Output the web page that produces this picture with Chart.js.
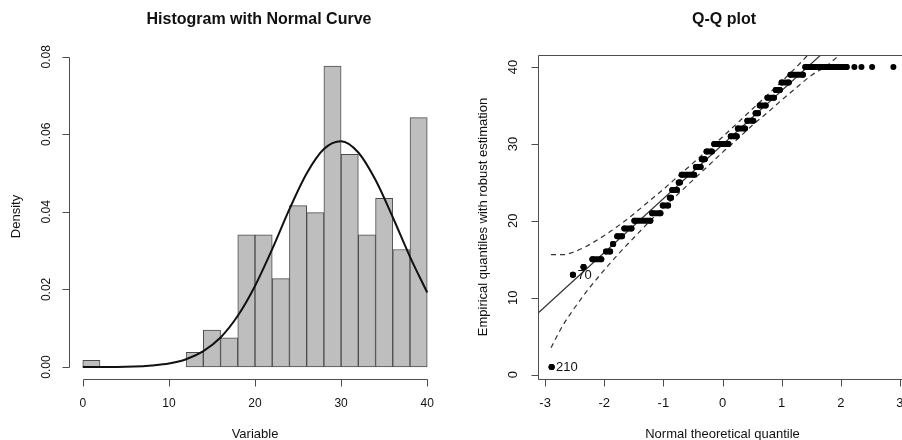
<!DOCTYPE html>
<html lang="en">
<head>
<meta charset="UTF-8">
<title>Histogram with Normal Curve / Q-Q plot</title>
<script src="https://cdn.jsdelivr.net/npm/chart.js@4.4.0/dist/chart.umd.min.js"></script>
<style>
    html, body { margin: 0; padding: 0; background: #fff; overflow: hidden; }
    body { width: 902px; height: 440px; position: relative; }
    canvas { position: absolute; top: 0; }
    #histChart { left: 0; }
    #qqChart { left: 451px; }
</style>
</head>
<body>
<canvas id="histChart" width="451" height="440"></canvas>
<canvas id="qqChart" width="460" height="440"></canvas>

<script>
// histogram: bins of width 2 from 0 to 40
const binStarts = [0, 2, 4, 6, 8, 10, 12, 14, 16, 18, 20, 22, 24, 26, 28, 30, 32, 34, 36, 38];
const binWidth = 2;
const binDensity = [0.0017, 0, 0, 0, 0, 0, 0.0038, 0.0095, 0.0075, 0.0341,
                    0.0341, 0.0228, 0.0416, 0.0398, 0.0776, 0.0548, 0.0341, 0.0435, 0.0303, 0.0643];

// normal curve
const curveX = [0, 2, 4, 6, 8, 10, 12, 14, 16, 18, 20, 22, 24, 26, 28, 30, 32, 34, 36, 38, 40];
const curveY = [0, 0, 0, 0.0001, 0.0004, 0.0009, 0.0020, 0.0041, 0.0076, 0.0132, 0.0209,
                0.0304, 0.0407, 0.0499, 0.0562, 0.0582, 0.0553, 0.0482, 0.0386, 0.0284, 0.0192];

const histXTicks = [0, 10, 20, 30, 40];
const histYTicks = [0, 0.02, 0.04, 0.06, 0.08];
const histYLabels = ['0.00', '0.02', '0.04', '0.06', '0.08'];

// Q-Q plot: each empirical value and the span of theoretical quantiles its points cover
const qqLevels  = [1, 13, 14, 15, 16, 17, 18, 19, 20, 21, 22, 23, 24, 25, 26, 27, 28, 29, 30, 31, 32, 33, 34, 35, 36, 37, 38, 39, 40];
const qqRunFrom = [-2.89, -2.53, -2.35, -2.20, -1.97, -1.85, -1.78, -1.66, -1.49, -1.19, -1.01, -0.89, -0.85, -0.74, -0.69,
                   -0.45, -0.35, -0.27, -0.14, 0.14, 0.26, 0.42, 0.56, 0.63, 0.76, 0.90, 1.00, 1.15, 1.40];
const qqRunTo   = [-2.89, -2.53, -2.35, -2.05, -1.90, -1.85, -1.70, -1.54, -1.22, -1.05, -0.92, -0.87, -0.77, -0.72, -0.48,
                   -0.37, -0.30, -0.18, 0.10, 0.24, 0.38, 0.52, 0.60, 0.73, 0.87, 0.97, 1.12, 1.36, 2.10];
const qqTailX = [2.23, 2.35, 2.53, 2.89];
const qqTailY = [40, 40, 40, 40];

// reference line and envelope
const refLineX = [-3.2, 1.8];
const refLineY = [7.44, 42.54];
const bandX     = [-2.9, -2.7, -2.5, -2.3, -2.1, -1.9, -1.7, -1.5, -1.25, -1.0, -0.75, -0.5, -0.25, 0, 0.25, 0.5, 0.75, 1.0, 1.25, 1.5, 1.75, 2.0];
const bandUpper = [15.6, 15.6, 16.0, 16.7, 17.6, 18.6, 19.7, 20.9, 22.5, 24.1, 25.8, 27.5, 29.2, 30.9, 32.7, 34.5, 36.3, 38.1, 40.0, 42.0, 44.0, 46.2];
const bandLower = [3.5, 6.4, 8.7, 10.8, 12.7, 14.5, 16.2, 17.8, 19.8, 21.7, 23.5, 25.3, 27.1, 28.9, 30.6, 32.4, 34.0, 35.7, 37.3, 38.9, 40.1, 41.7];

const qqXTicks = [-3, -2, -1, 0, 1, 2, 3];
const qqYTicks = [0, 10, 20, 30, 40];
const qqNotes = [{x: -2.53, y: 13, text: '70'}, {x: -2.89, y: 1, text: '210'}];

const FONT = '"Liberation Sans", Arial, sans-serif';

// base R look: detached axes (or a box), outward ticks, rotated y labels
const rAxes = {
    id: 'rAxes',
    afterDraw(chart, args, o) {
        const ctx = chart.ctx, xs = chart.scales.x, ys = chart.scales.y, a = chart.chartArea;
        ctx.save();
        ctx.strokeStyle = '#4d4d4d';
        ctx.lineWidth = 1;
        ctx.fillStyle = '#111';
        ctx.textAlign = 'center';
        ctx.textBaseline = 'middle';

        const bottom = Math.round(a.bottom) + 0.5;
        const left = Math.round(a.left) + 0.5;
        ctx.beginPath();
        if (o.box) {
            ctx.rect(left, Math.round(a.top) + 0.5, Math.round(a.right) - Math.round(a.left) + 2, Math.round(a.bottom) - Math.round(a.top));
        } else {
            ctx.moveTo(Math.round(xs.getPixelForValue(o.xTicks[0])) + 0.5, bottom);
            ctx.lineTo(Math.round(xs.getPixelForValue(o.xTicks[o.xTicks.length - 1])) + 0.5, bottom);
            ctx.moveTo(left, Math.round(ys.getPixelForValue(o.yTicks[0])) + 0.5);
            ctx.lineTo(left, Math.round(ys.getPixelForValue(o.yTicks[o.yTicks.length - 1])) + 0.5);
        }
        o.xTicks.forEach(v => {
            const px = Math.round(xs.getPixelForValue(v)) + 0.5;
            ctx.moveTo(px, bottom);
            ctx.lineTo(px, bottom + 7);
        });
        o.yTicks.forEach(v => {
            const py = Math.round(ys.getPixelForValue(v)) + 0.5;
            ctx.moveTo(left, py);
            ctx.lineTo(left - 7, py);
        });
        ctx.stroke();

        ctx.font = o.tickSize + 'px ' + FONT;
        o.xTicks.forEach(v => {
            ctx.fillText(String(v), xs.getPixelForValue(v), 403.5);
        });
        o.yTicks.forEach((v, i) => {
            ctx.save();
            ctx.translate(a.left - o.yTickGap, ys.getPixelForValue(v));
            ctx.rotate(-Math.PI / 2);
            ctx.fillText(o.yLabels ? o.yLabels[i] : String(v), 0, 0);
            ctx.restore();
        });

        // axis titles
        ctx.font = '13px ' + FONT;
        ctx.fillText(o.xTitle, (a.left + a.right) / 2, 434);
        ctx.save();
        ctx.translate(o.yTitleX, (a.top + a.bottom) / 2);
        ctx.rotate(-Math.PI / 2);
        ctx.fillText(o.yTitle, 0, 0);
        ctx.restore();

        // point labels
        ctx.textAlign = 'left';
        (o.notes || []).forEach(n => {
            ctx.fillText(n.text, xs.getPixelForValue(n.x) + 4.5, ys.getPixelForValue(n.y) + 0.5);
        });

        // main title
        ctx.textAlign = 'center';
        ctx.font = 'bold 16px ' + FONT;
        ctx.fillText(o.title, o.titleX, 20);
        ctx.restore();
    }
};

const hiddenScale = (min, max) => ({type: 'linear', display: false, min: min, max: max, offset: false});

new Chart(document.getElementById('histChart'), {
    type: 'bar',
    data: {
        datasets: [{
            type: 'line',
            data: curveX.map((x, i) => ({x: x, y: curveY[i]})),
            borderColor: '#111',
            borderWidth: 2,
            pointRadius: 0,
            cubicInterpolationMode: 'monotone',
            order: 0
        }, {
            type: 'bar',
            data: binStarts.map((s, i) => ({x: s + binWidth / 2, y: binDensity[i]})),
            backgroundColor: '#bebebe',
            borderColor: '#4d4d4d',
            borderWidth: 1,
            borderSkipped: false,
            barPercentage: 1,
            categoryPercentage: 1,
            order: 1
        }]
    },
    options: {
        responsive: false,
        animation: false,
        events: [],
        layout: {padding: {left: 69, right: 10, top: 54, bottom: 61}},
        scales: {
            x: hiddenScale(-1.6, 41.6),
            y: hiddenScale(-0.0031, 0.0807)
        },
        plugins: {
            legend: {display: false},
            tooltip: {enabled: false},
            rAxes: {
                box: false, tickSize: 12, yTickGap: 22.5,
                xTicks: histXTicks, yTicks: histYTicks, yLabels: histYLabels,
                title: 'Histogram with Normal Curve', titleX: 259,
                xTitle: 'Variable', yTitle: 'Density', yTitleX: 16.5
            }
        }
    },
    plugins: [rAxes]
});

// run spans as thick segments, broken between values
const runData = [];
qqLevels.forEach((v, i) => {
    runData.push({x: qqRunFrom[i], y: v}, {x: qqRunTo[i], y: v}, {x: qqRunTo[i], y: null});
});

new Chart(document.getElementById('qqChart'), {
    type: 'scatter',
    data: {
        datasets: [{
            type: 'line',
            data: runData,
            showLine: true,
            spanGaps: false,
            borderColor: '#000',
            borderWidth: 6,
            borderCapStyle: 'round',
            pointRadius: 3,
            pointBackgroundColor: '#000',
            pointBorderWidth: 0
        }, {
            data: qqTailX.map((x, i) => ({x: x, y: qqTailY[i]})),
            pointRadius: 3,
            pointBackgroundColor: '#000',
            pointBorderWidth: 0
        }, {
            type: 'line',
            data: refLineX.map((x, i) => ({x: x, y: refLineY[i]})),
            borderColor: '#333',
            borderWidth: 1.2,
            pointRadius: 0
        }, {
            type: 'line',
            data: bandX.map((x, i) => ({x: x, y: bandUpper[i]})),
            borderColor: '#333',
            borderWidth: 1.2,
            borderDash: [5, 4],
            pointRadius: 0,
            cubicInterpolationMode: 'monotone'
        }, {
            type: 'line',
            data: bandX.map((x, i) => ({x: x, y: bandLower[i]})),
            borderColor: '#333',
            borderWidth: 1.2,
            borderDash: [5, 4],
            pointRadius: 0,
            cubicInterpolationMode: 'monotone'
        }]
    },
    options: {
        responsive: false,
        animation: false,
        events: [],
        layout: {padding: {left: 87, right: 2, top: 55, bottom: 61}},
        scales: {
            x: hiddenScale(-3.12, 3.12),
            y: hiddenScale(-0.56, 41.56)
        },
        plugins: {
            legend: {display: false},
            tooltip: {enabled: false},
            rAxes: {
                box: true, tickSize: 13, yTickGap: 24.5,
                xTicks: qqXTicks, yTicks: qqYTicks, notes: qqNotes,
                title: 'Q-Q plot', titleX: 273,
                xTitle: 'Normal theoretical quantile',
                yTitle: 'Empirical quantiles with robust estimation', yTitleX: 32
            }
        }
    },
    plugins: [rAxes]
});
</script>
</body>
</html>
